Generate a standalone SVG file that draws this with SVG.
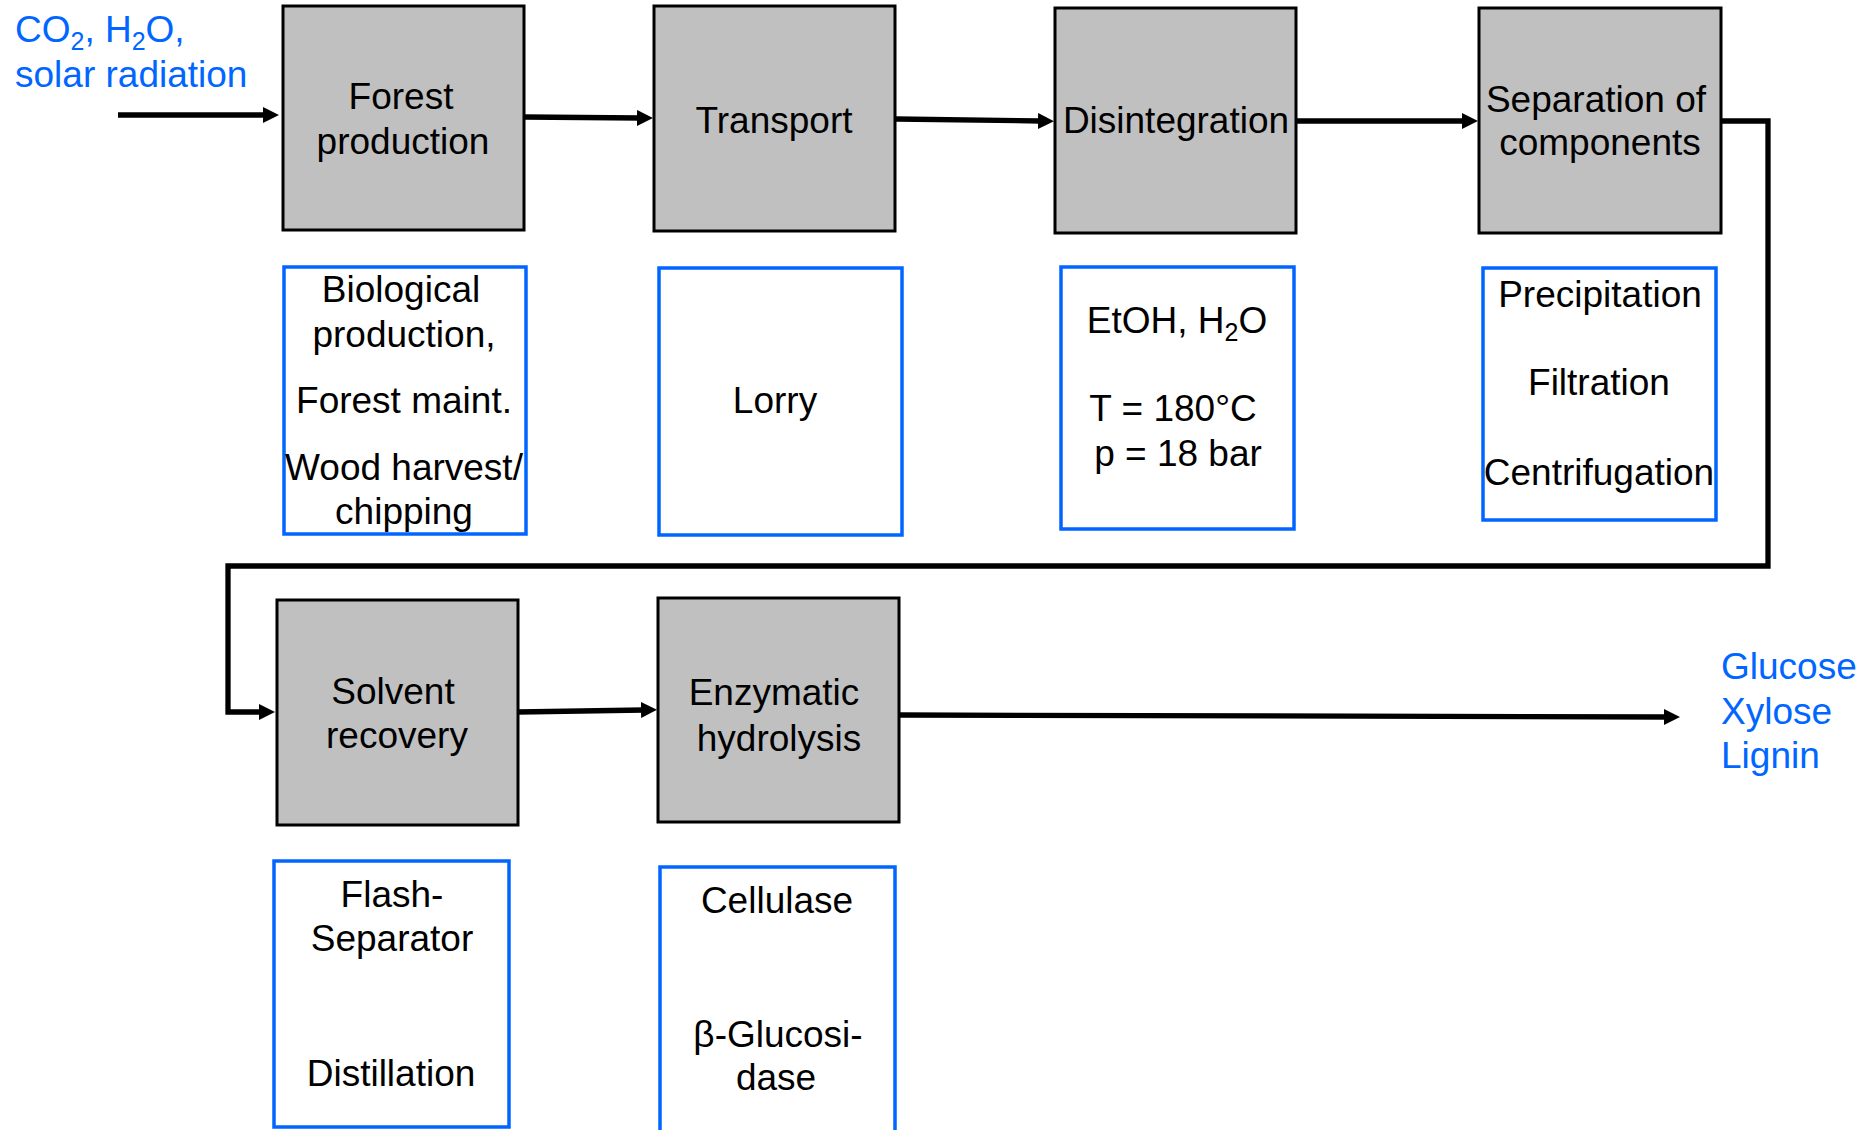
<svg xmlns="http://www.w3.org/2000/svg" width="1874" height="1130" viewBox="0 0 1874 1130">
<style>
  text { font-family: "Liberation Sans", Arial, sans-serif; font-size: 37px; fill: #000; }
  .c { text-anchor: middle; }
  .blue { fill: #0066ff; }
  .proc { fill: #c0c0c0; stroke: #000; stroke-width: 3; }
  .info { fill: #fff; stroke: #0066ff; stroke-width: 3.5; }
  .conn { fill: none; stroke: #000; stroke-width: 5.3; marker-end: url(#arr); }
  .sub { font-size: 25px; }
</style>
<defs>
  <marker id="arr" markerUnits="userSpaceOnUse" markerWidth="16" markerHeight="16" viewBox="0 0 16 16" refX="3" refY="8" orient="auto">
    <path d="M0,0 L16,8 L0,16 z" fill="#000"/>
  </marker>
</defs>
<rect width="1874" height="1130" fill="#fff"/>

<g id="input-label">
  <text x="15" y="42" class="blue">CO<tspan class="sub" dy="8">2</tspan><tspan dy="-8">, H</tspan><tspan class="sub" dy="8">2</tspan><tspan dy="-8">O,</tspan></text>
  <text x="15" y="87" class="blue">solar radiation</text>
</g>

<g id="forest-production">
  <rect class="proc" x="283" y="6" width="241" height="224"/>
  <text class="c" x="401" y="109">Forest</text>
  <text class="c" x="403" y="154">production</text>
</g>
<g id="transport">
  <rect class="proc" x="654" y="6" width="241" height="225"/>
  <text class="c" x="774" y="133">Transport</text>
</g>
<g id="disintegration">
  <rect class="proc" x="1055" y="8" width="241" height="225"/>
  <text class="c" x="1176" y="133">Disintegration</text>
</g>
<g id="separation">
  <rect class="proc" x="1479" y="8" width="242" height="225"/>
  <text class="c" x="1596" y="112">Separation of</text>
  <text class="c" x="1600" y="155">components</text>
</g>

<g id="forest-info">
  <rect class="info" x="284" y="267" width="242" height="267"/>
  <text class="c" x="401" y="302">Biological</text>
  <text class="c" x="404" y="347">production,</text>
  <text class="c" x="404" y="413">Forest maint.</text>
  <text class="c" x="404" y="480">Wood harvest/</text>
  <text class="c" x="404" y="524">chipping</text>
</g>
<g id="transport-info">
  <rect class="info" x="659" y="268" width="243" height="267"/>
  <text class="c" x="775" y="413">Lorry</text>
</g>
<g id="disintegration-info">
  <rect class="info" x="1061" y="267" width="233" height="262"/>
  <text class="c" x="1177" y="333">EtOH, H<tspan class="sub" dy="8">2</tspan><tspan dy="-8">O</tspan></text>
  <text class="c" x="1173" y="421">T = 180°C</text>
  <text class="c" x="1178" y="466">p = 18 bar</text>
</g>
<g id="separation-info">
  <rect class="info" x="1483" y="268" width="233" height="252"/>
  <text class="c" x="1600" y="307">Precipitation</text>
  <text class="c" x="1599" y="395">Filtration</text>
  <text class="c" x="1599" y="485">Centrifugation</text>
</g>

<g id="solvent-recovery">
  <rect class="proc" x="277" y="600" width="241" height="225"/>
  <text class="c" x="393" y="704">Solvent</text>
  <text class="c" x="397" y="748">recovery</text>
</g>
<g id="enzymatic-hydrolysis">
  <rect class="proc" x="658" y="598" width="241" height="224"/>
  <text class="c" x="774" y="705">Enzymatic</text>
  <text class="c" x="779" y="751">hydrolysis</text>
</g>

<g id="solvent-info">
  <rect class="info" x="274" y="861" width="235" height="266"/>
  <text class="c" x="392" y="907">Flash-</text>
  <text class="c" x="392" y="951">Separator</text>
  <text class="c" x="391" y="1086">Distillation</text>
</g>
<g id="enzymatic-info">
  <rect class="info" x="660" y="867" width="235" height="290"/>
  <text class="c" x="777" y="913">Cellulase</text>
  <text class="c" x="778" y="1047">β-Glucosi-</text>
  <text class="c" x="776" y="1090">dase</text>
</g>

<g id="output-label">
  <text x="1721" y="679" class="blue">Glucose</text>
  <text x="1721" y="724" class="blue">Xylose</text>
  <text x="1721" y="768" class="blue">Lignin</text>
</g>

<g id="connectors">
  <path class="conn" d="M118,115 L266,115"/>
  <path class="conn" d="M524,117 L640,118"/>
  <path class="conn" d="M896,119 L1041,121"/>
  <path class="conn" d="M1297,121 L1465,121"/>
  <path class="conn" d="M1721,121 H1768 V566 H228 V712 H262"/>
  <path class="conn" d="M518,712 L644,710"/>
  <path class="conn" d="M899,715 L1667,717"/>
</g>
</svg>
